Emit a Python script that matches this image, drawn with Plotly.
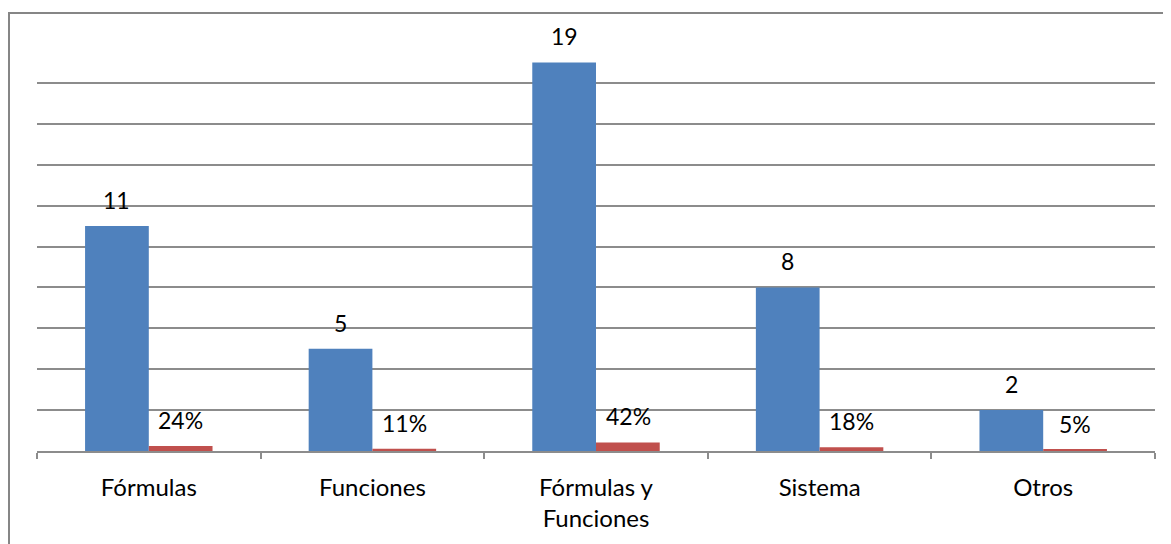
import plotly.graph_objects as go

categories = ["Fórmulas", "Funciones", "Fórmulas y<br>Funciones", "Sistema", "Otros"]
counts = [11, 5, 19, 8, 2]
shares = [0.24, 0.11, 0.42, 0.18, 0.05]
share_labels = ["24%", "11%", "42%", "18%", "5%"]

BLUE = "#4F81BD"
RED = "#C0504D"
GRID = "#8C8C8C"
FONT = "Lato"

# page body has an 8px margin; size the figure so the plot lands where the reference has it
W, H = 1163, 536
L, T = 29, 34
PLOT_W = 1147 - L
PLOT_H = 443 - T

fig = go.Figure()
fig.add_trace(go.Bar(x=categories, y=counts, marker=dict(color=BLUE, line=dict(width=0)), name="Cantidad"))
fig.add_trace(go.Bar(x=categories, y=shares, marker=dict(color=RED, line=dict(width=0)), name="Porcentaje"))

annotations = []
for c, v in zip(categories, counts):
    annotations.append(dict(x=c, y=v, xref="x", yref="y", text=str(v), showarrow=False,
                            xshift=-32, yshift=26, yanchor="middle",
                            font=dict(family=FONT, size=23, color="black")))
for c, v, t in zip(categories, shares, share_labels):
    annotations.append(dict(x=c, y=v, xref="x", yref="y", text=t, showarrow=False,
                            xshift=32, yshift=26, yanchor="middle",
                            font=dict(family=FONT, size=23, color="black")))

fig.update_layout(
    width=W, height=H,
    margin=dict(l=L, r=W - 1147, t=T, b=H - 443),
    paper_bgcolor="white", plot_bgcolor="white",
    barmode="group", bargap=0.43, bargroupgap=0,
    showlegend=False,
    font=dict(family=FONT, size=24, color="black"),
    annotations=annotations,
    shapes=[dict(type="rect", xref="paper", yref="paper",
                 x0=(1 - L) / PLOT_W, x1=1.2, y0=-0.5, y1=1 + (T - 5) / PLOT_H,
                 line=dict(color="#868686", width=2), fillcolor="rgba(0,0,0,0)", layer="below")],
)
fig.update_xaxes(showline=True, linecolor=GRID, linewidth=1.5, ticks="outside", tickson="boundaries",
                 ticklen=6, tickcolor=GRID, tickwidth=1.5, showgrid=False, ticklabelstandoff=14,
                 tickfont=dict(family=FONT, size=24, color="black"))
fig.update_yaxes(range=[0, 20], dtick=2, showgrid=True, gridcolor=GRID, gridwidth=1.5,
                 showticklabels=False, zeroline=False, showline=False, ticks="")

fig.write_html("out.html")
